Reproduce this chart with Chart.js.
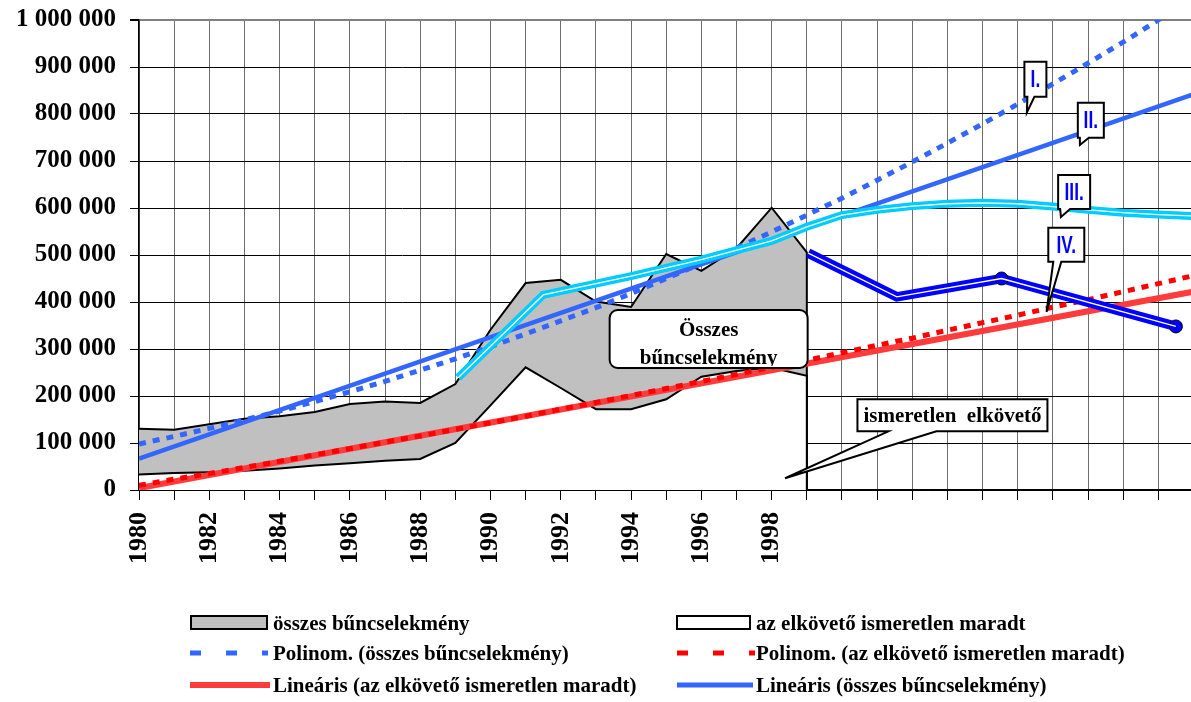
<!DOCTYPE html>
<html>
<head>
<meta charset="utf-8">
<script src="https://cdn.jsdelivr.net/npm/chart.js@4.4.1/dist/chart.umd.min.js"></script>
<style>
	body { margin: 0; background: #fff; }
	canvas { display: block; }
</style>
</head>
<body>
<canvas id="chart" width="1191" height="702"></canvas>
<script>
// recorded years (area series)
const years = [1980, 1981, 1982, 1983, 1984, 1985, 1986, 1987, 1988, 1989,
	1990, 1991, 1992, 1993, 1994, 1995, 1996, 1997, 1998, 1999];
const totalCrimes = [130470, 128042, 139795, 151505, 157036, 165816, 182867, 188397, 185344, 225393,
	341061, 440370, 447222, 400935, 389451, 502036, 466050, 514403, 600621, 505716];
const unknownPerp = [33000, 36000, 38000, 41000, 46000, 52000, 57000, 62000, 66000, 100000,
	180000, 261000, 217000, 172000, 172000, 193000, 241000, 253000, 260000, 243000];

// trend lines
const trendYears = [1980, 1981, 1982, 1983, 1984, 1985, 1986, 1987, 1988, 1989, 1990,
	1991, 1992, 1993, 1994, 1995, 1996, 1997, 1998, 1999, 2000,
	2001, 2002, 2003, 2004, 2005, 2006, 2007, 2008, 2009, 2010];
const polyTotal = [98000, 114000, 131000, 149000, 168000, 188000, 209000, 231000, 255000, 279000, 305000,
	332000, 360000, 388000, 418000, 450000, 482000, 515000, 549000, 585000, 621000,
	659000, 698000, 738000, 779000, 821000, 864000, 908000, 953000, 1000000, 1047000];
const polyUnknown = [10000, 23000, 35000, 48000, 61000, 75000, 88000, 102000, 115000, 129000, 143000,
	157000, 172000, 186000, 201000, 216000, 231000, 246000, 261000, 276000, 292000,
	308000, 323000, 340000, 356000, 372000, 389000, 405000, 422000, 439000, 456000];
const linearYears = [1980, 2010];
const linearTotal = [67000, 842000];
const linearUnknown = [4000, 422000];

// hand drawn scenarios III. and IV.
const scen3Years = [1989.08, 1991.5, 1994, 1996, 1998, 1999, 2000, 2001, 2002, 2003, 2004, 2005, 2006, 2007, 2008, 2009, 2010];
const scen3Values = [239000, 415000, 455000, 490000, 530000, 560000, 585000, 596000, 604000, 609000, 611000, 609000, 603000, 596000, 590000, 586000, 583000];
const scen4Years = [1999.04, 2001.56, 2004.54, 2009.5];
const scen4Values = [504000, 411000, 450000, 348000];

const yTicks = [0, 100000, 200000, 300000, 400000, 500000, 600000, 700000, 800000, 900000, 1000000];
const xLabelYears = [1980, 1982, 1984, 1986, 1988, 1990, 1992, 1994, 1996, 1998];

const legendItems = [
	'összes bűncselekmény', 'az elkövető ismeretlen maradt',
	'Polinom. (összes bűncselekmény)', 'Polinom. (az elkövető ismeretlen maradt)',
	'Lineáris (az elkövető ismeretlen maradt)', 'Lineáris (összes bűncselekmény)'
];

const serif = '"Liberation Serif", "Times New Roman", serif';
const sans = '"Liberation Sans", Arial, sans-serif';
const red = '#ff3b3b';

const pts = (xs, ys) => xs.map((x, i) => ({ x, y: ys[i] }));
// area closes down to the axis at its last year
const area = (xs, ys) => pts(xs, ys).concat([{ x: xs[xs.length - 1], y: 0 }]);

const callouts = [
	{ text: 'I.', x: 2005.19, y: 911000, w: 22, h: 35, tl: 3, tr: 10, tipX: 2005.26, tipY: 803000 },
	{ text: 'II.', x: 2006.71, y: 824000, w: 26, h: 35, tl: 2, tr: 11, tipX: 2006.77, tipY: 734000 },
	{ text: 'III.', x: 2006.15, y: 670000, w: 32, h: 34, tl: 2, tr: 12, tipX: 2006.23, tipY: 581000 },
	{ text: 'IV.', x: 2005.87, y: 558000, w: 36, h: 34, tl: 5, tr: 13, tipX: 2005.82, tipY: 379000 }
];

function boxWithTail(ctx, l, t, w, h, a, b, tx, ty) {
	ctx.beginPath();
	ctx.moveTo(l, t);
	ctx.lineTo(l + w, t);
	ctx.lineTo(l + w, t + h);
	ctx.lineTo(l + b, t + h);
	ctx.lineTo(tx, ty);
	ctx.lineTo(l + a, t + h);
	ctx.lineTo(l, t + h);
	ctx.closePath();
	ctx.fillStyle = '#fff';
	ctx.fill();
	ctx.strokeStyle = '#000';
	ctx.lineWidth = 2;
	ctx.stroke();
}

const overlays = {
	id: 'overlays',
	afterDatasetsDraw(chart) {
		const { ctx, scales: { x, y } } = chart;
		ctx.save();

		// "Összes bűncselekmény" label box
		const bl = x.getPixelForValue(1993.39), bt = y.getPixelForValue(383000);
		const bw = 198, bh = 58;
		ctx.beginPath();
		ctx.roundRect(bl, bt, bw, bh, 8);
		ctx.fillStyle = '#fff';
		ctx.fill();
		ctx.strokeStyle = '#000';
		ctx.lineWidth = 2;
		ctx.stroke();
		ctx.save();
		ctx.beginPath();
		ctx.rect(bl, bt, bw, bh - 2);
		ctx.clip();
		ctx.fillStyle = '#000';
		ctx.font = 'bold 21px ' + serif;
		ctx.textAlign = 'center';
		ctx.fillText('Összes', bl + bw / 2, bt + 26);
		ctx.fillText('bűncselekmény', bl + bw / 2, bt + 54);
		ctx.restore();

		// "ismeretlen elkövető" callout
		const il = x.getPixelForValue(2000.44), it = y.getPixelForValue(193000);
		boxWithTail(ctx, il, it, 190, 32, 31, 79, x.getPixelForValue(1998.38), y.getPixelForValue(25000));
		ctx.fillStyle = '#000';
		ctx.font = 'bold 21px ' + serif;
		ctx.textAlign = 'center';
		ctx.fillText('ismeretlen  elkövető', il + 95, it + 23);

		// scenario labels
		callouts.forEach(c => {
			const l = x.getPixelForValue(c.x), t = y.getPixelForValue(c.y);
			boxWithTail(ctx, l, t, c.w, c.h, c.tl, c.tr, x.getPixelForValue(c.tipX), y.getPixelForValue(c.tipY));
			ctx.save();
			ctx.translate(l + c.w / 2, t + c.h / 2 + 8);
			ctx.scale(0.72, 1);
			ctx.fillStyle = '#0000ff';
			ctx.font = 'bold 24px ' + sans;
			ctx.textAlign = 'center';
			ctx.fillText(c.text, 0, 0);
			ctx.restore();
		});
		ctx.restore();
	},
	afterDraw(chart) {
		const ctx = chart.ctx;
		ctx.save();
		const cols = [190, 677];
		const textX = [273, 756];
		const rows = [623, 653, 685];
		const base = [630, 660, 692];

		// row 1: area swatches
		ctx.lineWidth = 2;
		ctx.strokeStyle = '#000';
		ctx.fillStyle = '#c0c0c0';
		ctx.fillRect(cols[0] + 1, rows[0] - 7, 76, 13);
		ctx.strokeRect(cols[0] + 1, rows[0] - 7, 76, 13);
		ctx.fillStyle = '#fff';
		ctx.fillRect(cols[1], rows[0] - 7, 73, 13);
		ctx.strokeRect(cols[1], rows[0] - 7, 73, 13);

		// row 2: polynomial dashes
		ctx.lineWidth = 5;
		ctx.setLineDash([11, 25]);
		[['#3366ff', cols[0]], ['#ff0000', cols[1]]].forEach(([col, x0]) => {
			ctx.strokeStyle = col;
			ctx.beginPath();
			ctx.moveTo(x0, rows[1]);
			ctx.lineTo(x0 + 78, rows[1]);
			ctx.stroke();
		});
		ctx.setLineDash([]);

		// row 3: linear
		ctx.strokeStyle = red;
		ctx.lineWidth = 6;
		ctx.beginPath();
		ctx.moveTo(cols[0], rows[2]);
		ctx.lineTo(cols[0] + 80, rows[2]);
		ctx.stroke();
		ctx.strokeStyle = '#3366ff';
		ctx.lineWidth = 5;
		ctx.beginPath();
		ctx.moveTo(cols[1], rows[2]);
		ctx.lineTo(cols[1] + 76, rows[2]);
		ctx.stroke();

		ctx.fillStyle = '#000';
		ctx.font = 'bold 21px ' + serif;
		ctx.textAlign = 'left';
		legendItems.forEach((txt, i) => {
			ctx.fillText(txt, textX[i % 2], base[Math.floor(i / 2)]);
		});
		ctx.restore();
	}
};

const lineDefaults = { fill: false, pointRadius: 0, tension: 0, borderCapStyle: 'butt' };

const chart = new Chart(document.getElementById('chart'), {
	type: 'line',
	data: {
		datasets: [
			{ label: 'összes', data: area(years, totalCrimes), fill: 'origin', backgroundColor: '#c0c0c0',
				borderColor: '#000', borderWidth: 2, pointRadius: 0, tension: 0, order: 20 },
			{ label: 'ismeretlen', data: area(years, unknownPerp), fill: 'origin', backgroundColor: '#fff',
				borderColor: '#000', borderWidth: 2, pointRadius: 0, tension: 0, order: 19 },
			{ ...lineDefaults, label: 'lin ism', data: pts(linearYears, linearUnknown), borderColor: red, borderWidth: 6, order: 9 },
			{ ...lineDefaults, label: 'poly ism', data: pts(trendYears, polyUnknown), borderColor: '#ff0000', borderWidth: 5, borderDash: [7, 7], order: 8 },
			{ ...lineDefaults, label: 'poly ossz', data: pts(trendYears, polyTotal), borderColor: '#3366ff', borderWidth: 5, borderDash: [7, 7], order: 7 },
			{ ...lineDefaults, label: 'lin ossz', data: pts(linearYears, linearTotal), borderColor: '#3366ff', borderWidth: 4.5, order: 6 },
			{ ...lineDefaults, label: 'III', data: pts(scen3Years, scen3Values), borderColor: '#00ccff', borderWidth: 8, order: 5 },
			{ ...lineDefaults, label: 'III core', data: pts(scen3Years, scen3Values), borderColor: '#fff', borderWidth: 1.3, order: 4 },
			{ ...lineDefaults, label: 'IV', data: pts(scen4Years, scen4Values), borderColor: '#0000ff', borderWidth: 9.5,
				pointRadius: [0, 0, 6.5, 6.5], pointBackgroundColor: '#0000ff', pointBorderColor: '#000', pointBorderWidth: 1, order: 3 },
			{ ...lineDefaults, label: 'IV core', data: pts(scen4Years, scen4Values), borderColor: '#fff', borderWidth: 1.3, order: 2 }
		]
	},
	options: {
		responsive: false,
		animation: false,
		layout: { autoPadding: false, padding: { top: 20, right: 0, left: 0, bottom: 112 } },
		plugins: { legend: { display: false }, tooltip: { enabled: false } },
		scales: {
			x: {
				type: 'linear',
				min: 1980,
				max: 2009.93,
				afterFit: s => { s.height = 100; s.paddingLeft = 0; s.paddingRight = 0; },
				grid: { color: '#6e6e6e', lineWidth: 1, tickLength: 10, tickColor: '#000' },
				border: { color: '#000', width: 1.5 },
				ticks: {
					stepSize: 1,
					maxTicksLimit: 100,
					includeBounds: false,
					autoSkip: false,
					minRotation: 90,
					maxRotation: 90,
					padding: 12,
					color: '#000',
					font: { family: serif, size: 26, weight: 'bold' },
					callback: v => xLabelYears.includes(Math.round(v)) ? String(Math.round(v)) : ''
				}
			},
			y: {
				min: 0,
				max: 1000000,
				afterFit: s => { s.width = 139; s.paddingTop = 0; s.paddingBottom = 0; },
				afterBuildTicks: s => { s.ticks = yTicks.map(v => ({ value: v })); },
				grid: {
					color: c => c.tick && c.tick.value === 1000000 ? '#808080' : '#000',
					lineWidth: c => c.tick && c.tick.value === 1000000 ? 2 : 1,
					tickLength: 9,
					tickColor: '#000'
				},
				border: { color: '#000', width: 1.5 },
				ticks: {
					padding: 14,
					color: '#000',
					font: { family: serif, size: 25, weight: 'bold' },
					callback: v => String(v).replace(/\B(?=(\d{3})+(?!\d))/g, ' ')
				}
			}
		}
	},
	plugins: [overlays]
});
</script>
</body>
</html>
